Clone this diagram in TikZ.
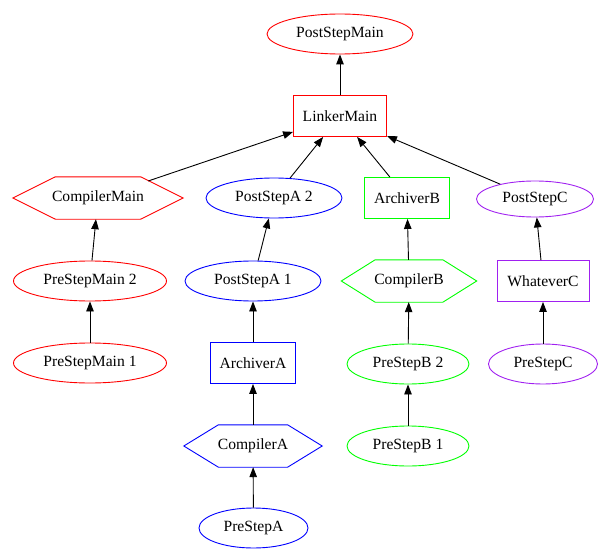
\documentclass[tikz,border=0pt]{standalone}
\usepackage{fontspec}
\setmainfont{Liberation Serif}
\usetikzlibrary{shapes.geometric,arrows.meta,calc}
\definecolor{gvred}{RGB}{255,0,0}
\definecolor{gvblue}{RGB}{0,0,255}
\definecolor{gvgreen}{RGB}{0,255,0}
\definecolor{gvpurple}{RGB}{160,32,240}
\newcommand{\hexdraw}[2]{\draw[draw=#2,line width=0.9pt] (#1.west) -- ($(#1.north west)!0.25!(#1.north east)$) -- ($(#1.north west)!0.75!(#1.north east)$) -- (#1.east) -- ($(#1.south west)!0.75!(#1.south east)$) -- ($(#1.south west)!0.25!(#1.south east)$) -- cycle;}
\tikzset{
  base/.style={inner sep=0pt, font=\fontsize{15.6}{18}\selectfont, text=black},
  ell/.style={base, ellipse, draw=#1, line width=0.9pt, minimum height=40pt},
  boxnode/.style={base, rectangle, draw=#1, line width=0.9pt, minimum height=41pt},
  hexnode/.style={base, rectangle, minimum height=42pt},
  edge/.style={draw=black, line width=0.9pt, -{Triangle[length=10pt,width=7.5pt]}}
}
\begin{document}
\begin{tikzpicture}[x=1pt,y=-1pt]
\useasboundingbox (0,0) rectangle (613,559);
% nodes
\node[ell=gvred, minimum width=146pt] (psm) at (340,34) {PostStepMain};
\node[boxnode=gvred, minimum width=93pt] (lm) at (340,116) {LinkerMain};
\node[hexnode, minimum width=170pt] (cm) at (98,198) {CompilerMain};
\node[ell=gvblue, minimum width=136pt] (psa2) at (274,198) {PostStepA 2};
\node[boxnode=gvgreen, minimum width=85pt] (ab) at (407,198) {ArchiverB};
\node[ell=gvpurple, minimum width=117pt, minimum height=36pt] (psc) at (535,199) {PostStepC};
\node[ell=gvred, minimum width=153pt] (prm2) at (90,281) {PreStepMain 2};
\node[ell=gvblue, minimum width=136pt] (psa1) at (253,281) {PostStepA 1};
\node[hexnode, minimum width=135pt] (cb) at (409,281) {CompilerB};
\node[boxnode=gvpurple, minimum width=92pt] (wc) at (543,281) {WhateverC};
\node[ell=gvred, minimum width=153pt] (prm1) at (90,363) {PreStepMain 1};
\node[boxnode=gvblue, minimum width=85pt] (aa) at (253,363) {ArchiverA};
\node[ell=gvgreen, minimum width=122pt] (prb2) at (408,364) {PreStepB 2};
\node[ell=gvpurple, minimum width=109pt] (prc) at (543,364) {PreStepC};
\node[hexnode, minimum width=138pt] (ca) at (253,446) {CompilerA};
\node[ell=gvgreen, minimum width=122pt] (prb1) at (408,446) {PreStepB 1};
\node[ell=gvblue, minimum width=109pt] (pra) at (253.5,528) {PreStepA};
% hexagon outlines
\hexdraw{cm}{gvred}
\hexdraw{cb}{gvgreen}
\hexdraw{ca}{gvblue}
\coordinate (cmtop) at (148.2,181);
% edges
\draw[edge] (lm) -- (psm);
\draw[edge] (cmtop) -- (lm);
\draw[edge] (psa2) -- (lm);
\draw[edge] (ab) -- (lm);
\draw[edge] (psc) -- (lm);
\draw[edge] (prm2) -- (cm);
\draw[edge] (psa1) -- (psa2);
\draw[edge] (cb) -- (ab);
\draw[edge] (wc) -- (psc);
\draw[edge] (prm1) -- (prm2);
\draw[edge] (aa) -- (psa1);
\draw[edge] (prb2) -- (cb);
\draw[edge] (prc) -- (wc);
\draw[edge] (ca) -- (aa);
\draw[edge] (prb1) -- (prb2);
\draw[edge] (pra) -- (ca);
\end{tikzpicture}
\end{document}
